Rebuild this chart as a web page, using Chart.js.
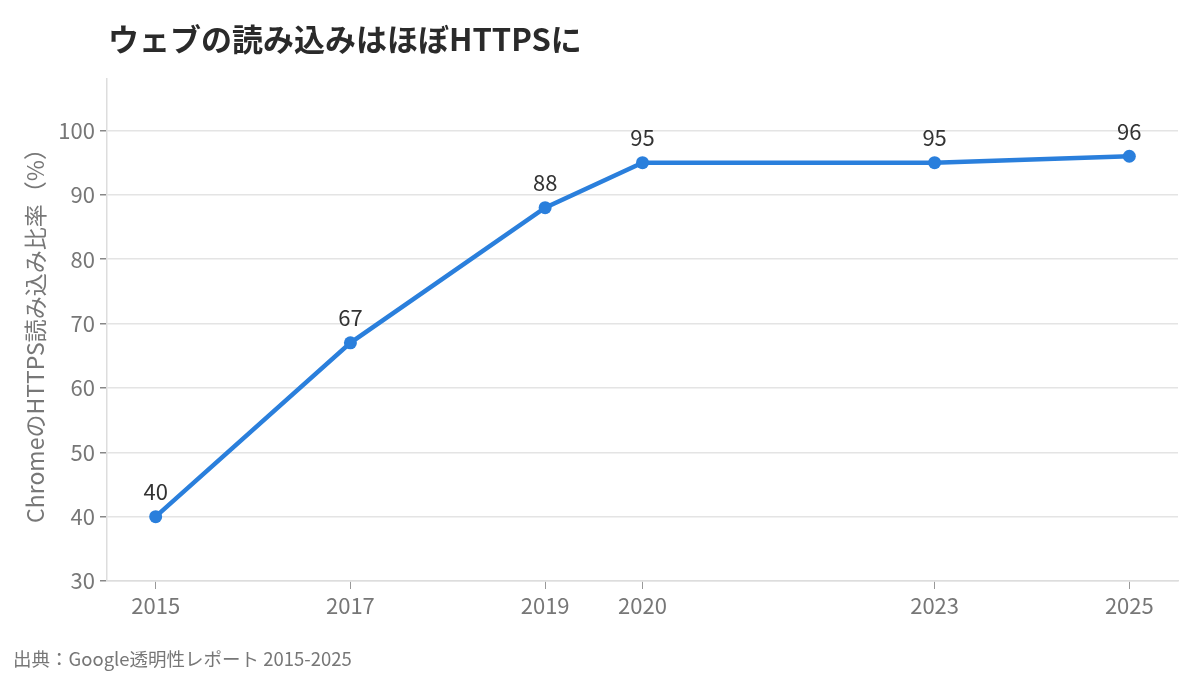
<!DOCTYPE html>
<html lang="ja">
<head>
    <meta charset="UTF-8">
    <title>ウェブの読み込みはほぼHTTPSに</title>
    <script src="https://cdn.jsdelivr.net/npm/chart.js@4.4.1/dist/chart.umd.min.js"></script>
    <style>
        body {
            margin: 0;
            padding: 0;
            background: #fff;
            font-family: "Noto Sans CJK JP", sans-serif;
        }
        .wrap {
            position: relative;
            width: 1200px;
            height: 675px;
        }
        h1 {
            position: absolute;
            left: 108px;
            top: 18px;
            margin: 0;
            font-size: 31px;
            font-weight: 700;
            color: #2a2a2a;
            line-height: 1.3;
        }
        .source {
            position: absolute;
            left: 13px;
            top: 645px;
            font-size: 18.5px;
            color: #777;
        }
    </style>
</head>
<body>
    <div class="wrap">
        <canvas id="httpsChart" width="1200" height="675"></canvas>
        <h1>ウェブの読み込みはほぼHTTPSに</h1>
        <div class="source">出典：Google透明性レポート 2015-2025</div>
    </div>

    <script>
        // data
        const years = [2015, 2017, 2019, 2020, 2023, 2025];
        const httpsShare = [40, 67, 88, 95, 95, 96];
        const yTicks = [30, 40, 50, 60, 70, 80, 90, 100];

        const FONT = '"Noto Sans CJK JP", sans-serif';
        const LINE = '#2a7fdc';

        // simple value labels above each point
        const pointLabels = {
            id: 'pointLabels',
            afterDatasetsDraw(chart) {
                const ctx = chart.ctx;
                const meta = chart.getDatasetMeta(0);
                ctx.save();
                ctx.font = '22px ' + FONT;
                ctx.fillStyle = '#333';
                ctx.textAlign = 'center';
                ctx.textBaseline = 'middle';
                meta.data.forEach((pt, i) => {
                    ctx.fillText(httpsShare[i], pt.x, pt.y - 25);
                });
                ctx.restore();
            }
        };

        new Chart(document.getElementById('httpsChart'), {
            type: 'line',
            data: {
                datasets: [{
                    data: years.map((y, i) => ({ x: y, y: httpsShare[i] })),
                    borderColor: LINE,
                    backgroundColor: LINE,
                    borderWidth: 4.5,
                    pointRadius: 6.5,
                    pointHoverRadius: 6.5,
                    pointBorderWidth: 0,
                    tension: 0
                }]
            },
            options: {
                responsive: false,
                animation: false,
                layout: { padding: { top: 79, right: 22, left: 0, bottom: 0 } },
                plugins: {
                    legend: { display: false },
                    tooltip: { enabled: false }
                },
                scales: {
                    x: {
                        type: 'linear',
                        min: 2014.5,
                        max: 2025.5,
                        afterBuildTicks: s => { s.ticks = years.map(v => ({ value: v })); },
                        afterFit: s => { s.height = 94; },
                        border: { color: '#dddddd', width: 1.5 },
                        grid: { drawOnChartArea: false, color: '#999', tickLength: 8 },
                        ticks: {
                            callback: v => String(v),
                            color: '#777',
                            font: { family: FONT, size: 22 },
                            padding: 3,
                            maxRotation: 0
                        }
                    },
                    y: {
                        min: 30,
                        max: 108,
                        afterBuildTicks: s => { s.ticks = yTicks.map(v => ({ value: v })); },
                        afterFit: s => { s.width = 107; },
                        border: { color: '#dddddd', width: 1.5 },
                        grid: { color: '#e4e4e4', lineWidth: 1.5, tickLength: 7, tickColor: '#888' },
                        ticks: {
                            color: '#777',
                            font: { family: FONT, size: 22 },
                            padding: 5
                        },
                        title: {
                            display: true,
                            text: 'ChromeのHTTPS読み込み比率（%）',
                            color: '#777',
                            font: { family: FONT, size: 23 },
                            padding: { top: 21, bottom: 0 }
                        }
                    }
                }
            },
            plugins: [pointLabels]
        });
    </script>
</body>
</html>
